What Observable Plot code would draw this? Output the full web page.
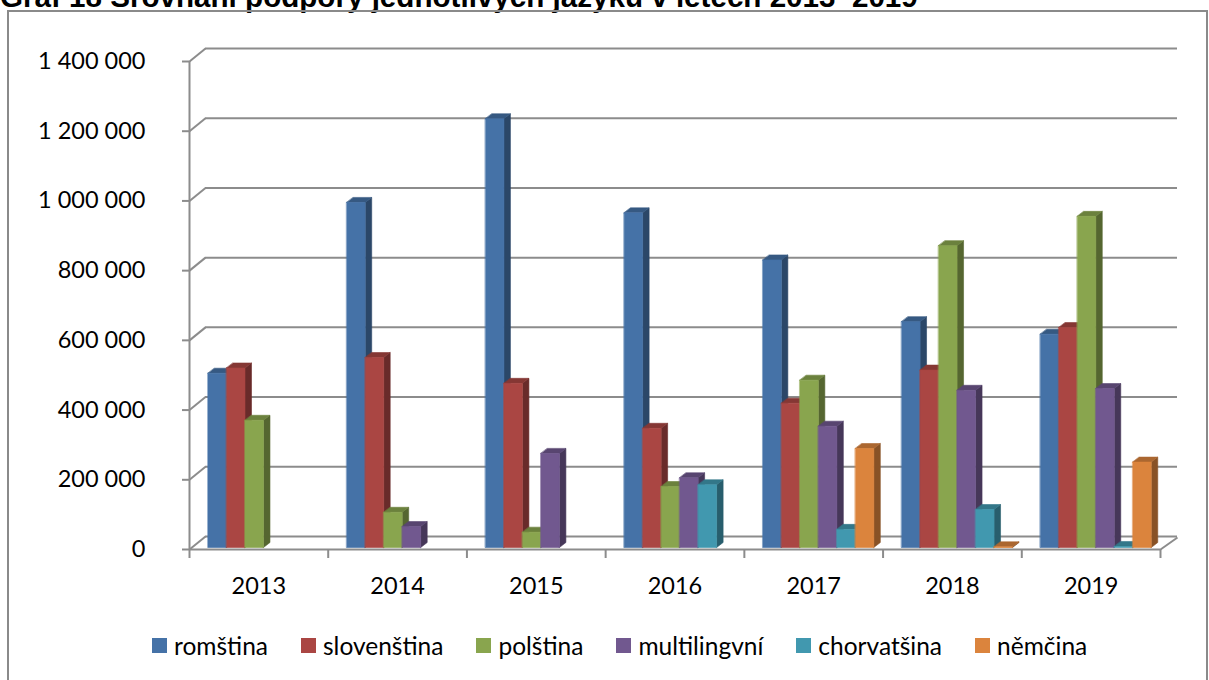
<!DOCTYPE html>
<html>
<head>
<meta charset="utf-8">
<script src="https://cdn.jsdelivr.net/npm/d3@7"></script>
<script src="https://cdn.jsdelivr.net/npm/@observablehq/plot@0.6"></script>
<style>
  html, body { margin: 0; padding: 0; background: #fff; }
  body { width: 1209px; height: 680px; overflow: hidden; position: relative; font-family: Lato, "Open Sans", sans-serif; }
  #title { position: absolute; left: 0; top: -18px; font: bold 29.6px/29px "Liberation Sans", Arial, sans-serif; color: #000; white-space: nowrap; }
  #frame { position: absolute; left: 7px; top: 10px; width: 1201px; height: 700px; border: 2px solid #8a8a8a; box-sizing: border-box; }
  #chart { position: absolute; left: 0; top: 0; }
  #legend { position: absolute; left: 152px; top: 631px; display: flex; gap: 33px; font: 24.5px Lato, sans-serif; color: #000; }
  #legend .item { display: flex; align-items: center; gap: 7px; white-space: nowrap; }
  #legend .sw { width: 15px; height: 15px; display: inline-block; }
</style>
</head>
<body>
<div id="title">Graf 18 Srovnání podpory jednotlivých jazyků v letech 2013–2019</div>
<div id="frame"></div>
<div id="chart"></div>
<div id="legend"></div>
<script>
// ---- data ----
const years = [2013, 2014, 2015, 2016, 2017, 2018, 2019];
const seriesNames = ["romština", "slovenština", "polština", "multilingvní", "chorvatšina", "němčina"];
const romstina     = [500000, 990000, 1230000, 960000, 825000, 648000, 612000];
const slovenstina  = [515000, 545000, 471000, 342000, 414000, 509000, 631000];
const polstina     = [365000, 101000, 44000, 175000, 480000, 866000, 950000];
const multilingvni = [null, 60000, 270000, 200000, 348000, 451000, 456000];
const chorvatsina  = [null, null, null, 180000, 52000, 109000, 3000];
const nemcina      = [null, null, null, null, 284000, 2000, 245000];
const seriesColors = ["#4572A7", "#AA4643", "#89A54E", "#71588F", "#4198AF", "#DB843D"];
const yTicks = [0, 200000, 400000, 600000, 800000, 1000000, 1200000, 1400000];

const seriesValues = [romstina, slovenstina, polstina, multilingvni, chorvatsina, nemcina];

// ---- layout ----
const W = 1209, H = 600;
const mL = 189, mR = 49, mT = 61, mB = 51;
const plotW = W - mL - mR, plotH = H - mT - mB;
const yMax = 1400000, nCat = years.length;
const px2x = p => p * nCat / plotW;
const px2y = p => p * yMax / plotH;
const slot = 1 / 7.5; // bar width in category units (gap width 150%)
const ddx = px2x(6.5), ddy = px2y(5);       // bar depth
const bdx = px2x(16), bdy = px2y(13);       // wall depth

function shade(c, k) {
  const r = d3.rgb(c);
  return d3.rgb(r.r * k, r.g * k, r.b * k).formatHex();
}

// polygons for 3D bars, in drawing order
const faces = [];
years.forEach((yr, i) => {
  seriesValues.forEach((vals, j) => {
    const v = vals[i];
    if (v == null) return;
    const x1 = i + (1 + j) * slot, x2 = x1 + slot;
    const c = seriesColors[j];
    const id = `${i}-${j}`;
    const push = (name, col, pts) => pts.forEach(([x, y]) => faces.push({id: id + name, x, y, c: col}));
    push("s", shade(c, 0.62), [[x2, 0], [x2 + ddx, ddy], [x2 + ddx, v + ddy], [x2, v]]);
    push("t", shade(c, 0.78), [[x1, v], [x2, v], [x2 + ddx, v + ddy], [x1 + ddx, v + ddy]]);
    push("f", c, [[x1, 0], [x2, 0], [x2, v], [x1, v]]);
  });
});

const fmt = d => d3.format(",")(d).replace(/,/g, "\u00a0");
const grid = "#8c8c8c";

const chart = Plot.plot({
  width: W, height: H,
  marginLeft: mL, marginRight: mR, marginTop: mT, marginBottom: mB,
  x: {domain: [0, nCat], axis: null},
  y: {domain: [0, yMax], axis: null},
  color: {type: "identity"},
  style: {fontFamily: "Lato, sans-serif", background: "transparent", overflow: "visible"},
  marks: [
    // back wall gridlines
    Plot.ruleY(yTicks, {y: d => d + bdy, x1: bdx, x2: nCat + px2x(17), stroke: grid, strokeWidth: 2}),
    // side wall diagonals
    Plot.link(yTicks, {x1: 0, y1: d => d, x2: bdx, y2: d => d + bdy, stroke: grid, strokeWidth: 2}),
    // front axis line and ticks
    Plot.ruleX([0], {y1: 0, y2: yMax, stroke: grid, strokeWidth: 2}),
    Plot.ruleY(yTicks, {y: d => d, x1: -px2x(7), x2: 0, stroke: grid, strokeWidth: 2}),
    // floor
    Plot.ruleY([0], {x1: 0, x2: nCat, stroke: grid, strokeWidth: 2}),
    Plot.link([0], {x1: nCat, y1: 0, x2: nCat + px2x(17), y2: px2y(12), stroke: grid, strokeWidth: 2}),
    Plot.ruleX(d3.range(nCat + 1), {y1: 0, y2: -px2y(9), stroke: grid, strokeWidth: 2}),
    // bars
    Plot.line(faces, {x: "x", y: "y", z: "id", fill: "c", stroke: "c", strokeWidth: 0.6, curve: "linear-closed", dy: -2}),
    // labels
    Plot.text(yTicks, {x: 0, y: d => d, dx: -44, textAnchor: "end", text: fmt, fontSize: 23.5, fill: "#000"}),
    Plot.text(years, {x: (d, i) => i + 0.5, y: 0, dy: 37, text: d => String(d), fontSize: 23.5, fill: "#000"})
  ]
});
document.getElementById("chart").appendChild(chart);

// legend
const lg = document.getElementById("legend");
seriesNames.forEach((n, j) => {
  const it = document.createElement("span");
  it.className = "item";
  it.innerHTML = `<span class="sw" style="background:${seriesColors[j]}"></span><span>${n}</span>`;
  lg.appendChild(it);
});
</script>
</body>
</html>
